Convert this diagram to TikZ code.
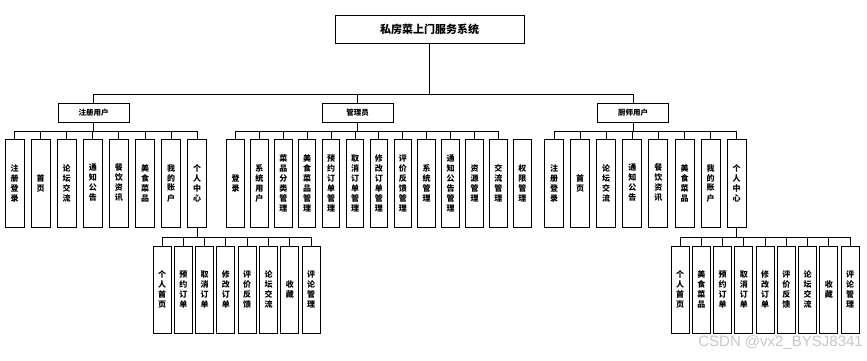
\documentclass[tikz,border=0pt]{standalone}
\usepackage{fontspec}
\newfontfamily\cjk{Noto Sans CJK SC}
\setsansfont{Liberation Sans}
\begin{document}
\begin{tikzpicture}[x=1pt,y=1pt,
  box/.style={draw=black, line width=1pt, inner sep=0pt, align=center, fill=white},
  lnk/.style={line width=1pt, draw=black},
  cj/.style={font=\cjk\bfseries\fontsize{8}{10}\selectfont},
  leaf/.style={box, cj, minimum width=19pt, minimum height=88pt},
  aleaf/.style={box, cj, minimum width=17.5pt, minimum height=88pt},
  sleaf/.style={box, cj, minimum width=18pt, minimum height=87pt},
  mid/.style={box, minimum width=71pt, minimum height=19pt, font=\cjk\bfseries\fontsize{7.5}{9}\selectfont}]
\useasboundingbox (0,0) rectangle (867,-360);

\node[box, minimum width=189pt, minimum height=28pt, font=\cjk\bfseries\fontsize{11}{13}\selectfont] (root) at (429.5,-29) {私房菜上门服务系统};

\node[mid] (u) at (93.5,-112.5) {注册用户};
\node[mid] (a) at (357.5,-112.5) {管理员};
\node[mid] (c) at (633,-112.5) {厨师用户};
\foreach \p in {u,a,c} \draw[lnk] (root.south) -- ++(0,-51) -| (\p.north);

% registered user
\foreach \t [count=\i from 0] in {{注\\册\\登\\录},{首\\页},{论\\坛\\交\\流},{通\\知\\公\\告},{餐\\饮\\资\\讯},{美\\食\\菜\\品},{我\\的\\账\\户},{个\\人\\中\\心}} {
  \node[leaf] (u\i) at (14.5+26.1*\i,-183) {\t};
  \draw[lnk] (u.south) -- ++(0,-9) -| (u\i.north);
}

% admin
\foreach \t [count=\i from 0] in {{登\\录},{系\\统\\用\\户},{菜\\品\\分\\类\\管\\理},{美\\食\\菜\\品\\管\\理},{预\\约\\订\\单\\管\\理},{取\\消\\订\\单\\管\\理},{修\\改\\订\\单\\管\\理},{评\\价\\反\\馈\\管\\理},{系\\统\\管\\理},{通\\知\\公\\告\\管\\理},{资\\源\\管\\理},{交\\流\\管\\理},{权\\限\\管\\理}} {
  \node[aleaf] (a\i) at (235.5+23.9*\i,-183) {\t};
}
\foreach \i in {0,...,11} \draw[lnk] (a.south) -- ++(0,-9) -| (a\i.north);

% chef
\foreach \t [count=\i from 0] in {{注\\册\\登\\录},{首\\页},{论\\坛\\交\\流},{通\\知\\公\\告},{餐\\饮\\资\\讯},{美\\食\\菜\\品},{我\\的\\账\\户},{个\\人\\中\\心}} {
  \node[leaf] (c\i) at (554+26.1*\i,-183) {\t};
  \draw[lnk] (c.south) -- ++(0,-9) -| (c\i.north);
}

% user personal centre
\foreach \t [count=\i from 0] in {{个\\人\\首\\页},{预\\约\\订\\单},{取\\消\\订\\单},{修\\改\\订\\单},{评\\价\\反\\馈},{论\\坛\\交\\流},{收\\藏},{评\\论\\管\\理}} {
  \node[sleaf] (us\i) at (162+21.3*\i,-289.5) {\t};
  \draw[lnk] (u7.south) -- ++(0,-10) -| (us\i.north);
}

% chef personal centre
\foreach \t [count=\i from 0] in {{个\\人\\首\\页},{美\\食\\菜\\品},{预\\约\\订\\单},{取\\消\\订\\单},{修\\改\\订\\单},{评\\价\\反\\馈},{论\\坛\\交\\流},{收\\藏},{评\\论\\管\\理}} {
  \node[sleaf] (cs\i) at (680+21.25*\i,-289.5) {\t};
  \draw[lnk] (c7.south) -- ++(0,-10) -| (cs\i.north);
}

\node[font=\sffamily\fontsize{15}{15}\selectfont, text=black!22, anchor=east, inner sep=0pt] (wm) at (863,-343) {CSDN @vx2\_BYSJ8341};
\end{tikzpicture}
\end{document}
